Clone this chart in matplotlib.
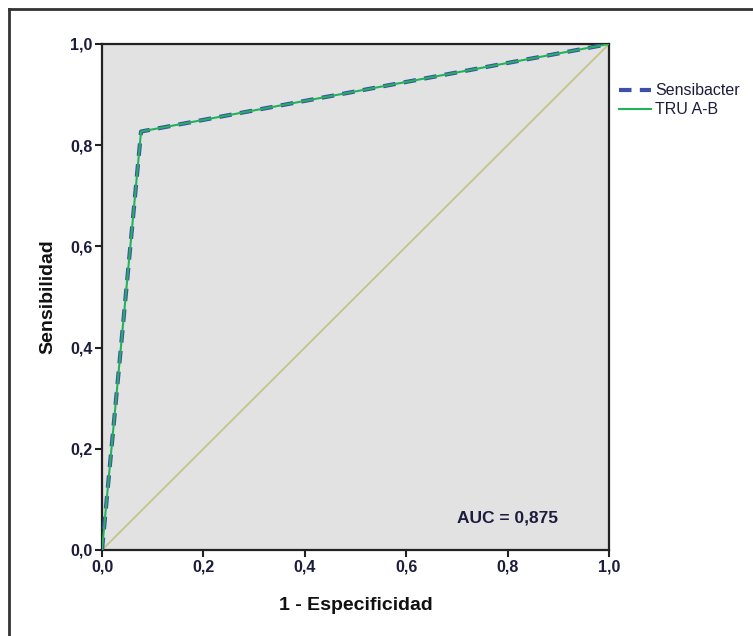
import matplotlib
matplotlib.use("Agg")
import matplotlib.pyplot as plt
from matplotlib.lines import Line2D

plt.rcParams['font.family'] = ['Liberation Sans', 'DejaVu Sans']

# ROC data
fpr = [0.0, 0.077, 1.0]
sens_sensibacter = [0.0, 0.827, 1.0]
sens_tru = [0.0, 0.827, 1.0]
ref_line = [0.0, 1.0]
ticks = [0.0, 0.2, 0.4, 0.6, 0.8, 1.0]
tick_labels = ['0,0', '0,2', '0,4', '0,6', '0,8', '1,0']
auc_text = 'AUC = 0,875'

W, H = 753, 636
fig = plt.figure(figsize=(W / 100, H / 100), dpi=100)
ax = fig.add_axes([102 / W, 1 - 550 / H, 507 / W, 506 / H])
ax.set_facecolor('#e2e2e2')

txt = '#1c1c3c'

ax.plot(ref_line, ref_line, color='#c4c486', lw=1.3, zorder=2)
ax.plot(fpr, sens_sensibacter, color='#3d4fa8', lw=3.0, ls=(0, (3, 2)),
        zorder=3, label='Sensibacter')
ax.plot(fpr, sens_tru, color='#22b35a', lw=1.5, zorder=4, label='TRU A-B')

ax.set_xlim(0, 1)
ax.set_ylim(0, 1)
ax.set_xticks(ticks)
ax.set_yticks(ticks)
ax.set_xticklabels(tick_labels)
ax.set_yticklabels(tick_labels)
ax.tick_params(direction='out', length=5, width=1.5, color='#222222',
               labelsize=11.5, labelcolor=txt, pad=2)
for lab in ax.get_xticklabels() + ax.get_yticklabels():
    lab.set_fontweight('bold')
for sp in ax.spines.values():
    sp.set_linewidth(1.6)
    sp.set_color('#222222')

ax.set_xlabel('1 - Especificidad', fontsize=14, fontweight='bold', color='#111111', labelpad=16)
ax.set_ylabel('Sensibilidad', fontsize=14, fontweight='bold', color='#111111', labelpad=10)

ax.text(0.9, 0.064, auc_text, transform=ax.transAxes, ha='right', va='center',
        fontsize=12.5, fontweight='bold', color=txt)

handles, labels = ax.get_legend_handles_labels()
leg = fig.legend(handles, labels, loc='upper left',
                 bbox_to_anchor=(613 / W, 1 - 77 / H), frameon=False,
                 fontsize=11.5, handlelength=2.0, handletextpad=0.25,
                 labelspacing=0.25, borderaxespad=0)
for t in leg.get_texts():
    t.set_color(txt)

# outer frame (top and left edges)
fig.add_artist(Line2D([9 / W, 1], [1 - 9 / H, 1 - 9 / H], transform=fig.transFigure,
                      color='#333333', lw=2))
fig.add_artist(Line2D([9 / W, 9 / W], [0, 1 - 9 / H], transform=fig.transFigure,
                      color='#333333', lw=2))

fig.savefig('out.png', dpi=100)
